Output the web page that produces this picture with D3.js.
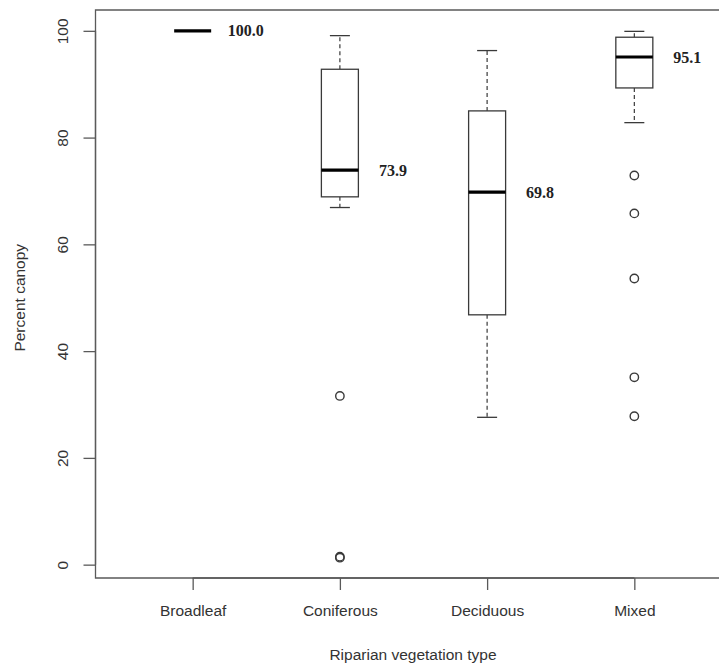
<!DOCTYPE html>
<html>
<head>
<meta charset="utf-8">
<script src="https://cdn.jsdelivr.net/npm/d3@7"></script>
<style>
  html, body { margin: 0; padding: 0; background: #fff; overflow: hidden; }
  svg { display: block; }
</style>
</head>
<body>
<svg id="chart" width="719" height="669"></svg>
<script>
// Percent canopy by riparian vegetation type (box-and-whisker summary)
const categories   = ["Broadleaf", "Coniferous", "Deciduous", "Mixed"];
const lowerWhisker = [100.0, 66.9, 27.6, 82.8];
const lowerQuart   = [100.0, 68.9, 46.8, 89.3];
const medians      = [100.0, 73.9, 69.8, 95.1];
const upperQuart   = [100.0, 92.8, 85.0, 98.8];
const upperWhisker = [100.0, 99.1, 96.3, 99.9];
const outliers     = [[], [31.6, 1.5, 1.3], [], [72.9, 65.8, 53.6, 35.1, 27.8]];
const yTicks       = [0, 20, 40, 60, 80, 100];

const svg = d3.select("#chart");
const frame = { left: 95.5, right: 731.5, top: 10, bottom: 578 };

const x = d3.scaleLinear().domain([0.34, 4.66]).range([frame.left, frame.right]);
const y = d3.scaleLinear().domain([-2.5, 103.9]).range([frame.bottom, frame.top]);

const ink = "#3a3a3a";
const boxHalf = 18.5;
const capHalf = 10;

const data = categories.map((c, i) => ({
  cat: c, pos: i + 1,
  lo: lowerWhisker[i], q1: lowerQuart[i], med: medians[i],
  q3: upperQuart[i], hi: upperWhisker[i], out: outliers[i]
}));

// plot frame (its right side lies past the page edge)
svg.append("path")
  .attr("d", `M${frame.right},${frame.top}H${frame.left}V${frame.bottom}H${frame.right}`)
  .attr("fill", "none").attr("stroke", "#5a5a5a").attr("stroke-width", 1.3);

// y axis
const yAxis = svg.append("g")
  .attr("transform", `translate(${frame.left},0)`)
  .call(d3.axisLeft(y).tickValues(yTicks).tickSize(12).tickSizeOuter(0).tickPadding(0));
yAxis.select(".domain").attr("stroke", "#5a5a5a").attr("stroke-width", 1.3)
  .attr("d", `M0,${y(0)}V${y(100)}`);
yAxis.selectAll(".tick line").attr("stroke", "#5a5a5a").attr("stroke-width", 1.3);
yAxis.selectAll(".tick text")
  .attr("x", 0)
  .attr("text-anchor", "middle")
  .attr("transform", "translate(-33,0) rotate(-90)")
  .attr("dy", "0.35em")
  .style("font-family", "'Liberation Sans', Arial, sans-serif")
  .style("font-size", "15.5px").attr("fill", "#333");

// x axis
const xAxis = svg.append("g")
  .attr("transform", `translate(0,${frame.bottom})`)
  .call(d3.axisBottom(x).tickValues([1, 2, 3, 4])
    .tickFormat(d => categories[d - 1]).tickSize(12).tickSizeOuter(0).tickPadding(15));
xAxis.select(".domain").attr("stroke", "#5a5a5a").attr("stroke-width", 1.3)
  .attr("d", `M${x(1)},0H${x(4)}`);
xAxis.selectAll(".tick line").attr("stroke", "#5a5a5a").attr("stroke-width", 1.3);
xAxis.selectAll(".tick text")
  .style("font-family", "'Liberation Sans', Arial, sans-serif")
  .style("font-size", "15.5px").attr("fill", "#333");

// axis titles
svg.append("text")
  .attr("x", 413).attr("y", 660)
  .attr("text-anchor", "middle")
  .style("font-family", "'Liberation Sans', Arial, sans-serif")
  .style("font-size", "15.5px").attr("fill", "#333")
  .text("Riparian vegetation type");
svg.append("text")
  .attr("transform", `translate(25,${(y(0) + y(100)) / 2}) rotate(-90)`)
  .attr("text-anchor", "middle")
  .style("font-family", "'Liberation Sans', Arial, sans-serif")
  .style("font-size", "15.5px").attr("fill", "#333")
  .text("Percent canopy");

const groups = svg.append("g").selectAll("g.box").data(data).join("g").attr("class", "box");

// whiskers (dashed)
groups.append("line")
  .attr("x1", d => x(d.pos)).attr("x2", d => x(d.pos))
  .attr("y1", d => y(d.q3)).attr("y2", d => y(d.hi))
  .attr("stroke", ink).attr("stroke-width", 1.2).attr("stroke-dasharray", "4,3");
groups.append("line")
  .attr("x1", d => x(d.pos)).attr("x2", d => x(d.pos))
  .attr("y1", d => y(d.q1)).attr("y2", d => y(d.lo))
  .attr("stroke", ink).attr("stroke-width", 1.2).attr("stroke-dasharray", "4,3");

// staples
groups.filter(d => d.hi > d.q3).append("line")
  .attr("x1", d => x(d.pos) - capHalf).attr("x2", d => x(d.pos) + capHalf)
  .attr("y1", d => y(d.hi)).attr("y2", d => y(d.hi))
  .attr("stroke", ink).attr("stroke-width", 1.3);
groups.filter(d => d.lo < d.q1).append("line")
  .attr("x1", d => x(d.pos) - capHalf).attr("x2", d => x(d.pos) + capHalf)
  .attr("y1", d => y(d.lo)).attr("y2", d => y(d.lo))
  .attr("stroke", ink).attr("stroke-width", 1.3);

// boxes
groups.filter(d => d.q3 > d.q1).append("rect")
  .attr("x", d => x(d.pos) - boxHalf).attr("width", boxHalf * 2)
  .attr("y", d => y(d.q3)).attr("height", d => y(d.q1) - y(d.q3))
  .attr("fill", "#fff").attr("stroke", ink).attr("stroke-width", 1.3);

// medians
groups.append("line")
  .attr("x1", d => x(d.pos) - boxHalf).attr("x2", d => x(d.pos) + boxHalf)
  .attr("y1", d => y(d.med)).attr("y2", d => y(d.med))
  .attr("stroke", "#000").attr("stroke-width", 3.2);

// median value labels
groups.append("text")
  .attr("x", d => x(d.pos) + 53).attr("y", d => y(d.med))
  .attr("dy", "0.35em").attr("text-anchor", "middle")
  .style("font-family", "'Liberation Serif', 'Times New Roman', serif")
  .style("font-weight", "bold").style("font-size", "16px").attr("fill", "#222")
  .text(d => d3.format(".1f")(d.med));

// outliers
groups.selectAll("circle").data(d => d.out.map(v => ({ pos: d.pos, v })))
  .join("circle")
  .attr("cx", d => x(d.pos)).attr("cy", d => y(d.v)).attr("r", 4.2)
  .attr("fill", "none").attr("stroke", ink).attr("stroke-width", 1.4);
</script>
</body>
</html>
